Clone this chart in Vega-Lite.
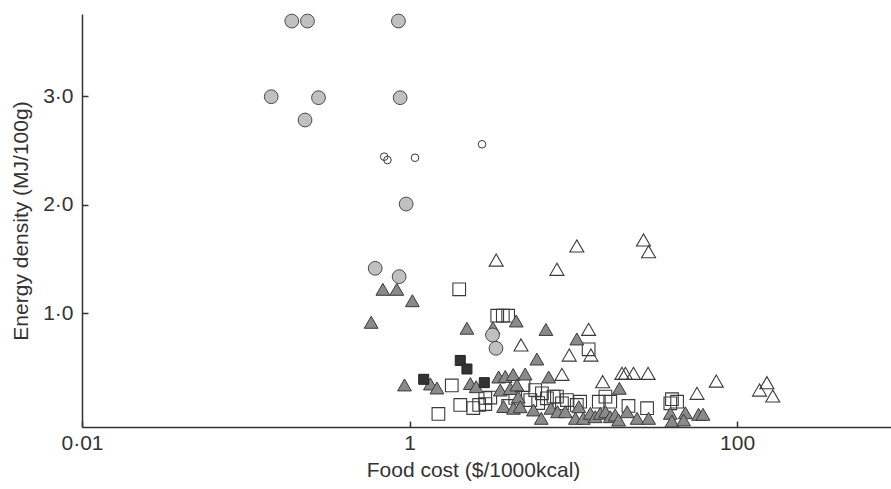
{
  "$schema": "https://vega.github.io/schema/vega-lite/v6.json",
  "width": 809,
  "height": 413,
  "autosize": {"type": "none"},
  "padding": {"left": 82, "top": 14, "right": 0, "bottom": 62},
  "background": "white",
  "config": {
    "view": {"stroke": null},
    "axis": {
      "grid": false,
      "domainColor": "#333333",
      "domainWidth": 1.5,
      "tickColor": "#333333",
      "tickWidth": 1.5,
      "tickSize": -6,
      "labelFlush": false,
      "labelFont": "Liberation Sans",
      "labelFontSize": 21,
      "labelColor": "#333333",
      "titleFont": "Liberation Sans",
      "titleFontSize": 21,
      "titleFontWeight": "normal",
      "titleColor": "#333333"
    }
  },
  "data": {
    "values": [
      {"g": "E", "cost": 2.01, "ed": 1.22},
      {"g": "E", "cost": 3.43, "ed": 0.977},
      {"g": "E", "cost": 3.71, "ed": 0.977},
      {"g": "E", "cost": 4.0, "ed": 0.977},
      {"g": "E", "cost": 12.4, "ed": 0.667},
      {"g": "E", "cost": 1.81, "ed": 0.333},
      {"g": "E", "cost": 2.04, "ed": 0.153},
      {"g": "E", "cost": 1.5, "ed": 0.07},
      {"g": "E", "cost": 2.66, "ed": 0.153},
      {"g": "E", "cost": 2.9, "ed": 0.162},
      {"g": "E", "cost": 3.11, "ed": 0.222},
      {"g": "E", "cost": 4.96, "ed": 0.337},
      {"g": "E", "cost": 5.46, "ed": 0.199},
      {"g": "E", "cost": 5.85, "ed": 0.291},
      {"g": "E", "cost": 6.1, "ed": 0.171},
      {"g": "E", "cost": 6.43, "ed": 0.261},
      {"g": "E", "cost": 6.9, "ed": 0.215},
      {"g": "E", "cost": 7.57, "ed": 0.23},
      {"g": "E", "cost": 7.94, "ed": 0.23},
      {"g": "E", "cost": 8.52, "ed": 0.169},
      {"g": "E", "cost": 9.14, "ed": 0.199},
      {"g": "E", "cost": 10.5, "ed": 0.153},
      {"g": "E", "cost": 11.0, "ed": 0.183},
      {"g": "E", "cost": 14.3, "ed": 0.183},
      {"g": "E", "cost": 15.7, "ed": 0.23},
      {"g": "E", "cost": 16.8, "ed": 0.183},
      {"g": "E", "cost": 21.7, "ed": 0.144},
      {"g": "E", "cost": 28.2, "ed": 0.123},
      {"g": "E", "cost": 40.0, "ed": 0.206},
      {"g": "E", "cost": 43.0, "ed": 0.183},
      {"g": "E", "cost": 39.1, "ed": 0.169},
      {"g": "E", "cost": 4.0, "ed": 0.144},
      {"g": "E", "cost": 4.42, "ed": 0.218},
      {"g": "E", "cost": 2.9, "ed": 0.218},
      {"g": "E", "cost": 2.45, "ed": 0.125},
      {"g": "D", "cost": 3.38, "ed": 1.49},
      {"g": "D", "cost": 7.94, "ed": 1.405},
      {"g": "D", "cost": 10.5, "ed": 1.62},
      {"g": "D", "cost": 26.8, "ed": 1.675},
      {"g": "D", "cost": 28.8, "ed": 1.567},
      {"g": "D", "cost": 4.79, "ed": 0.707},
      {"g": "D", "cost": 12.4, "ed": 0.851},
      {"g": "D", "cost": 9.44, "ed": 0.614},
      {"g": "D", "cost": 12.8, "ed": 0.614},
      {"g": "D", "cost": 8.52, "ed": 0.436},
      {"g": "D", "cost": 15.1, "ed": 0.368},
      {"g": "D", "cost": 19.8, "ed": 0.445},
      {"g": "D", "cost": 20.8, "ed": 0.445},
      {"g": "D", "cost": 23.3, "ed": 0.445},
      {"g": "D", "cost": 28.6, "ed": 0.445},
      {"g": "D", "cost": 56.9, "ed": 0.261},
      {"g": "D", "cost": 74.6, "ed": 0.374},
      {"g": "D", "cost": 137, "ed": 0.291},
      {"g": "D", "cost": 152, "ed": 0.359},
      {"g": "D", "cost": 165, "ed": 0.236},
      {"g": "C", "cost": 0.687, "ed": 1.22},
      {"g": "C", "cost": 0.836, "ed": 1.22},
      {"g": "C", "cost": 1.04, "ed": 1.115},
      {"g": "C", "cost": 0.583, "ed": 0.916},
      {"g": "C", "cost": 2.24, "ed": 0.861},
      {"g": "C", "cost": 3.23, "ed": 0.866},
      {"g": "C", "cost": 4.48, "ed": 0.928},
      {"g": "C", "cost": 6.8, "ed": 0.85},
      {"g": "C", "cost": 10.5, "ed": 0.762},
      {"g": "C", "cost": 5.99, "ed": 0.577},
      {"g": "C", "cost": 0.931, "ed": 0.338},
      {"g": "C", "cost": 1.34, "ed": 0.347},
      {"g": "C", "cost": 1.47, "ed": 0.31},
      {"g": "C", "cost": 2.35, "ed": 0.351},
      {"g": "C", "cost": 2.55, "ed": 0.322},
      {"g": "C", "cost": 3.5, "ed": 0.411},
      {"g": "C", "cost": 3.84, "ed": 0.416},
      {"g": "C", "cost": 4.29, "ed": 0.434},
      {"g": "C", "cost": 5.08, "ed": 0.439},
      {"g": "C", "cost": 7.07, "ed": 0.411},
      {"g": "C", "cost": 19.1, "ed": 0.307},
      {"g": "C", "cost": 3.58, "ed": 0.291},
      {"g": "C", "cost": 4.12, "ed": 0.305},
      {"g": "C", "cost": 4.52, "ed": 0.338},
      {"g": "C", "cost": 4.61, "ed": 0.227},
      {"g": "C", "cost": 3.75, "ed": 0.139},
      {"g": "C", "cost": 4.31, "ed": 0.123},
      {"g": "C", "cost": 4.74, "ed": 0.137},
      {"g": "C", "cost": 5.71, "ed": 0.107},
      {"g": "C", "cost": 6.37, "ed": 0.03},
      {"g": "C", "cost": 7.3, "ed": 0.123},
      {"g": "C", "cost": 8.01, "ed": 0.091},
      {"g": "C", "cost": 8.93, "ed": 0.091},
      {"g": "C", "cost": 10.8, "ed": 0.137},
      {"g": "C", "cost": 10.3, "ed": 0.03},
      {"g": "C", "cost": 11.5, "ed": 0.03},
      {"g": "C", "cost": 12.7, "ed": 0.076},
      {"g": "C", "cost": 13.6, "ed": 0.045},
      {"g": "C", "cost": 14.6, "ed": 0.076},
      {"g": "C", "cost": 15.7, "ed": 0.091},
      {"g": "C", "cost": 16.8, "ed": 0.045},
      {"g": "C", "cost": 18.0, "ed": 0.061},
      {"g": "C", "cost": 18.9, "ed": 0.015},
      {"g": "C", "cost": 21.3, "ed": 0.091},
      {"g": "C", "cost": 24.5, "ed": 0.03},
      {"g": "C", "cost": 28.8, "ed": 0.03},
      {"g": "C", "cost": 39.1, "ed": 0.076},
      {"g": "C", "cost": 40.0, "ed": 0.005},
      {"g": "C", "cost": 48.3, "ed": 0.082},
      {"g": "C", "cost": 47.1, "ed": 0.015},
      {"g": "C", "cost": 58.2, "ed": 0.067},
      {"g": "C", "cost": 61.9, "ed": 0.067},
      {"g": "F", "cost": 1.22, "ed": 0.39},
      {"g": "F", "cost": 2.04, "ed": 0.564},
      {"g": "F", "cost": 2.24, "ed": 0.485},
      {"g": "F", "cost": 2.86, "ed": 0.359},
      {"g": "B", "cost": 0.7, "ed": 2.444},
      {"g": "B", "cost": 0.733, "ed": 2.413},
      {"g": "B", "cost": 1.08, "ed": 2.434},
      {"g": "B", "cost": 2.77, "ed": 2.558},
      {"g": "A", "cost": 0.191, "ed": 3.695},
      {"g": "A", "cost": 0.238, "ed": 3.695},
      {"g": "A", "cost": 0.855, "ed": 3.695},
      {"g": "A", "cost": 0.143, "ed": 2.997},
      {"g": "A", "cost": 0.278, "ed": 2.988},
      {"g": "A", "cost": 0.876, "ed": 2.988},
      {"g": "A", "cost": 0.23, "ed": 2.782},
      {"g": "A", "cost": 0.953, "ed": 2.007},
      {"g": "A", "cost": 0.617, "ed": 1.414},
      {"g": "A", "cost": 0.864, "ed": 1.337},
      {"g": "A", "cost": 3.21, "ed": 0.799},
      {"g": "A", "cost": 3.37, "ed": 0.676}
    ]
  },
  "encoding": {
    "x": {
      "field": "cost",
      "type": "quantitative",
      "scale": {"type": "log", "domain": [0.01, 870], "nice": false},
      "axis": {
        "title": "Food cost ($/1000kcal)",
        "values": [0.01, 1, 100],
        "labelExpr": "datum.value < 0.1 ? '0·01' : format(datum.value, 'd')",
        "labelPadding": 11,
        "titlePadding": 6,
        "titleX": 391
      }
    },
    "y": {
      "field": "ed",
      "type": "quantitative",
      "scale": {"domain": [-0.05, 3.76], "nice": false, "zero": false},
      "axis": {
        "title": "Energy density (MJ/100g)",
        "values": [1, 2, 3],
        "labelExpr": "replace(format(datum.value, '.1f'), '.', '·')",
        "labelPadding": 15,
        "titlePadding": 11
      }
    }
  },
  "layer": [
    {"transform": [{"filter": "datum.g == 'E'"}], "mark": {"type": "point", "shape": "square", "size": 160, "filled": false, "stroke": "#3a3a3a", "strokeWidth": 1.1, "opacity": 1}},
    {"transform": [{"filter": "datum.g == 'D'"}], "mark": {"type": "point", "shape": "triangle-up", "size": 196, "filled": false, "stroke": "#3a3a3a", "strokeWidth": 1.1, "opacity": 1}},
    {"transform": [{"filter": "datum.g == 'C'"}], "mark": {"type": "point", "shape": "triangle-up", "size": 190, "filled": true, "fill": "#8a8a8a", "stroke": "#3a3a3a", "strokeWidth": 1, "opacity": 1}},
    {"transform": [{"filter": "datum.g == 'F'"}], "mark": {"type": "point", "shape": "square", "size": 100, "filled": true, "fill": "#333333", "stroke": "#222222", "strokeWidth": 1, "opacity": 1}},
    {"transform": [{"filter": "datum.g == 'B'"}], "mark": {"type": "point", "shape": "circle", "size": 58, "filled": false, "stroke": "#3a3a3a", "strokeWidth": 1, "opacity": 1}},
    {"transform": [{"filter": "datum.g == 'A'"}], "mark": {"type": "point", "shape": "circle", "size": 190, "filled": true, "fill": "#c0c0c0", "stroke": "#4a4a4a", "strokeWidth": 1, "opacity": 1}}
  ]
}
